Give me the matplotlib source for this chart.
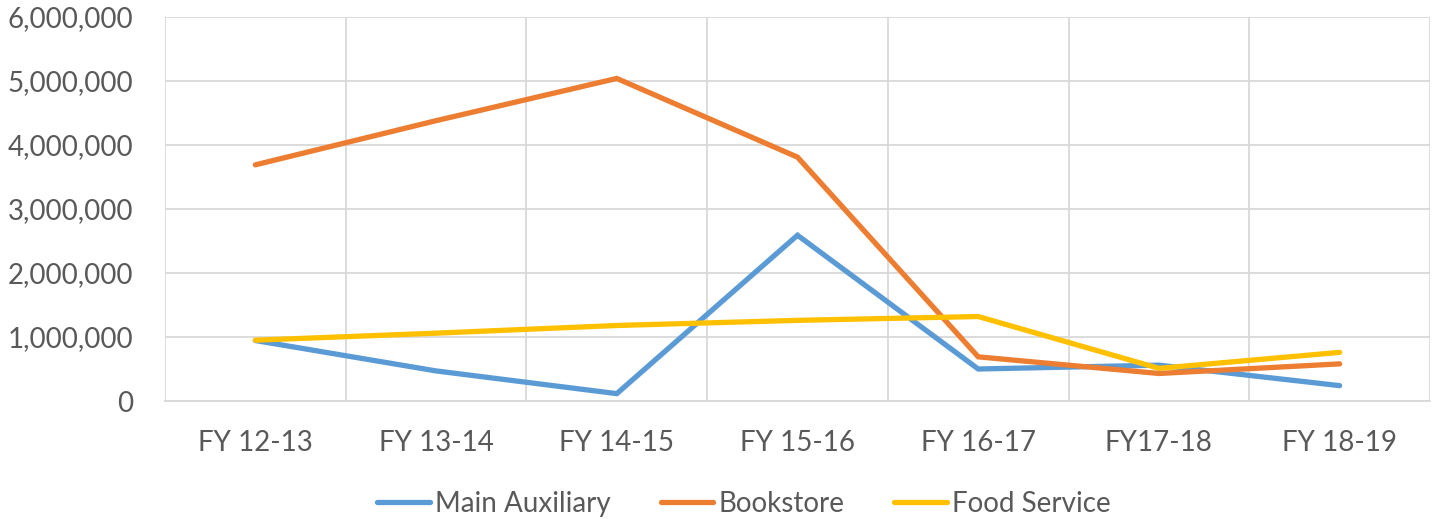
import matplotlib
matplotlib.use("Agg")
import matplotlib.pyplot as plt
from matplotlib.ticker import FuncFormatter, FixedLocator

categories = ["FY 12-13", "FY 13-14", "FY 14-15", "FY 15-16", "FY 16-17", "FY17-18", "FY 18-19"]
main_auxiliary = [945000, 470000, 115000, 2590000, 500000, 560000, 240000]
bookstore = [3690000, 4380000, 5040000, 3810000, 690000, 430000, 580000]
food_service = [950000, 1060000, 1180000, 1260000, 1320000, 510000, 760000]

series_names = ["Main Auxiliary", "Bookstore", "Food Service"]
colors = ["#5B9BD5", "#ED7D31", "#FFC000"]
text_color = "#595959"
grid_color = "#D9D9D9"

plt.rcParams['font.family'] = ['Lato', 'DejaVu Sans']

fig = plt.figure(figsize=(14.32, 5.19), dpi=100)
ax = fig.add_axes([165/1432, 1-401/519, (1430-165)/1432, (401-17)/519])

x = list(range(len(categories)))
for vals, name, c in zip([main_auxiliary, bookstore, food_service], series_names, colors):
    ax.plot(x, vals, color=c, lw=3.8, label=name, solid_capstyle='round', solid_joinstyle='miter')

ax.set_xlim(-0.5, len(categories) - 0.5)
ax.set_ylim(0, 6000000)
ax.yaxis.set_major_locator(FixedLocator([i * 1000000 for i in range(7)]))
ax.yaxis.set_major_formatter(FuncFormatter(lambda v, p: f"{int(v):,}"))
ax.set_xticks(x)
ax.set_xticklabels(categories)
ax.set_xticks([i - 0.5 for i in range(len(categories) + 1)], minor=True)

ax.grid(axis='y', which='major', color=grid_color, lw=1.3)
ax.grid(axis='x', which='minor', color=grid_color, lw=1.3)
ax.set_axisbelow(True)
for s in ['top', 'right', 'left']:
    ax.spines[s].set_visible(False)
ax.spines['bottom'].set_color(grid_color)
ax.spines['bottom'].set_linewidth(1.3)
ax.tick_params(axis='both', which='both', length=0, colors=text_color, labelsize=20)
ax.tick_params(axis='y', pad=23)
ax.tick_params(axis='x', pad=21)

fig.legend(loc='center', bbox_to_anchor=(744/1432, 1-504/519), ncol=3, frameon=False,
           fontsize=20, labelcolor=text_color, handlelength=1.9, handletextpad=0.18,
           columnspacing=1.8)

fig.savefig("out.png", dpi=100)
